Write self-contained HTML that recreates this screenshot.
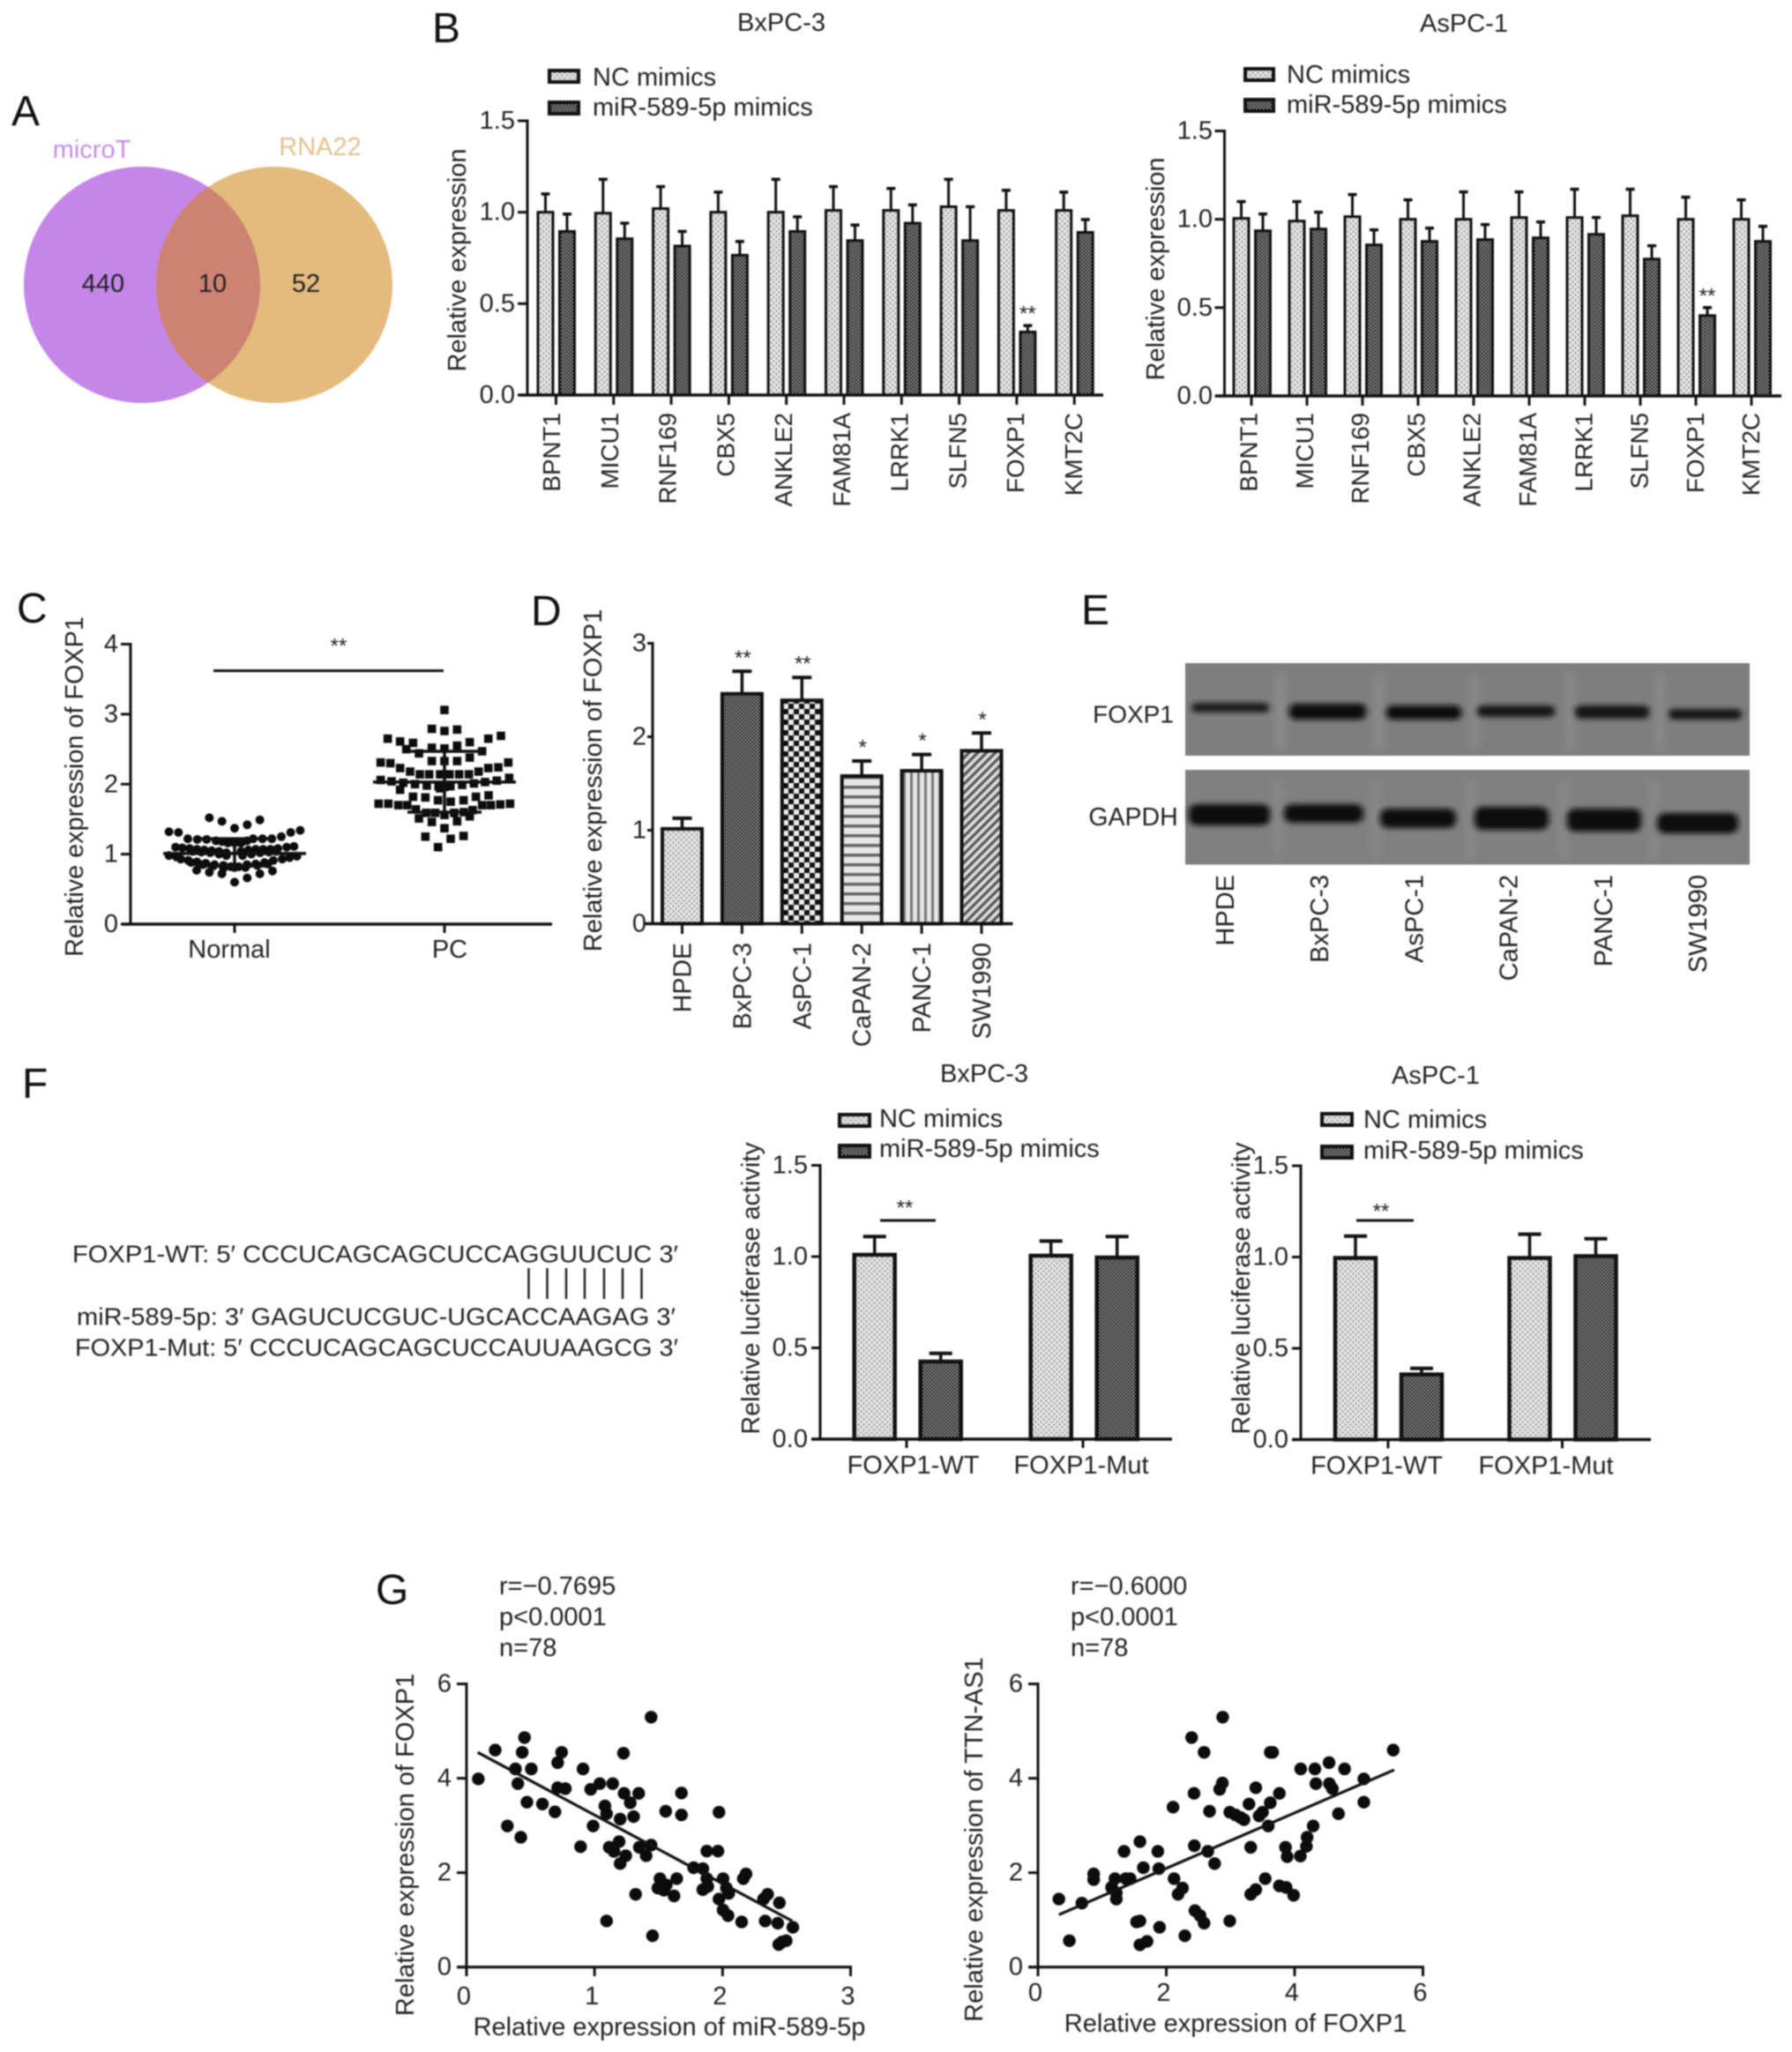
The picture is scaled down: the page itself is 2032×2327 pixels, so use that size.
<!DOCTYPE html>
<html lang="en">
<head>
<meta charset="utf-8">
<title>FOXP1 miR-589-5p multi-panel figure</title>
<style>
html,body{margin:0;padding:0;background:#fff;width:2032px;height:2327px;overflow:hidden}
svg{display:block;filter:blur(0.7px)}
text{font-family:"Liberation Sans",sans-serif;fill:#222;dominant-baseline:central}
.panel{font-size:48px;fill:#111;dominant-baseline:auto}
.t{font-size:29px}
</style>
</head>
<body>
<svg id="fig" xmlns="http://www.w3.org/2000/svg" width="2032" height="2327" viewBox="0 0 2032 2327">
<defs>
<pattern id="pat-dots" width="6" height="6" patternUnits="userSpaceOnUse"><rect width="6" height="6" fill="#e2e2e2"/><circle cx="1.5" cy="1.5" r="1" fill="#888"/><circle cx="4.5" cy="4.5" r="1" fill="#888"/></pattern>
<pattern id="pat-check" width="4" height="4" patternUnits="userSpaceOnUse"><rect width="4" height="4" fill="#999"/><rect width="2" height="2" fill="#1c1c1c"/><rect x="2" y="2" width="2" height="2" fill="#1c1c1c"/></pattern>
<pattern id="pat-big-check" width="12" height="12" patternUnits="userSpaceOnUse"><rect width="12" height="12" fill="#eee"/><rect width="6" height="6" fill="#111"/><rect x="6" y="6" width="6" height="6" fill="#111"/></pattern>
<pattern id="pat-h" width="10" height="11" patternUnits="userSpaceOnUse"><rect width="10" height="11" fill="#e6e6e6"/><rect width="10" height="3.5" fill="#666"/></pattern>
<pattern id="pat-v" width="8" height="10" patternUnits="userSpaceOnUse"><rect width="8" height="10" fill="#e6e6e6"/><rect width="3" height="10" fill="#777"/></pattern>
<pattern id="pat-diag" width="7" height="7" patternUnits="userSpaceOnUse" patternTransform="rotate(45)"><rect width="7" height="7" fill="#ddd"/><rect width="3.2" height="7" fill="#555"/></pattern>
<clipPath id="venn-clip"><circle cx="161" cy="323" r="134"/></clipPath>
<filter id="band-blur" x="-30%" y="-100%" width="160%" height="300%"><feGaussianBlur stdDeviation="3.5 3"/></filter>
<filter id="lane-blur" x="-50%" y="-5%" width="200%" height="110%"><feGaussianBlur stdDeviation="5"/></filter>
</defs>

<text class="panel" x="13" y="142">A</text>
<text class="panel" x="490" y="48">B</text>
<text class="panel" x="19" y="706">C</text>
<text class="panel" x="602" y="709">D</text>
<text class="panel" x="1226" y="708">E</text>
<text class="panel" x="25" y="1245">F</text>
<text class="panel" x="426" y="1819">G</text>

<g>
<circle cx="161" cy="323" r="134" fill="#c586e9"/>
<circle cx="311" cy="323" r="134" fill="#e3bb7d"/>
<circle cx="311" cy="323" r="134" fill="#cd8272" clip-path="url(#venn-clip)"/>
<text class="t" x="104" y="170" text-anchor="middle" style="fill:#c98ce8">microT</text>
<text class="t" x="363" y="167" text-anchor="middle" style="fill:#e6c08a">RNA22</text>
<text class="t" x="117" y="322" text-anchor="middle">440</text>
<text class="t" x="241" y="322" text-anchor="middle">10</text>
<text class="t" x="347" y="322" text-anchor="middle">52</text>
</g>

<text class="t" x="886" y="26" text-anchor="middle">BxPC-3</text>
<text class="t" x="1660" y="27" text-anchor="middle">AsPC-1</text>
<text class="t" x="1116" y="1218" text-anchor="middle">BxPC-3</text>
<text class="t" x="1628" y="1220" text-anchor="middle">AsPC-1</text>

<g>
<rect x="1344" y="752" width="640" height="105" fill="#7e7e7e"/>
<rect x="1344" y="873" width="640" height="107.500" fill="#808080"/>
<g fill="#8e8e8e" filter="url(#lane-blur)">
<rect x="1447" y="765" width="9" height="85"/><rect x="1559" y="765" width="9" height="85"/><rect x="1668" y="765" width="8" height="85"/><rect x="1777" y="765" width="8" height="85"/><rect x="1878" y="765" width="8" height="85"/>
<rect x="1446" y="885" width="6" height="88"/><rect x="1557" y="885" width="6" height="88"/><rect x="1664" y="885" width="6" height="88"/><rect x="1770" y="885" width="6" height="88"/><rect x="1872" y="885" width="6" height="88"/>
</g>
<g filter="url(#band-blur)" fill="#0a0a0a">
<rect x="1351" y="797" width="88" height="11" rx="5" fill="#1a1a1a"/>
<rect x="1462" y="798" width="87" height="18" rx="7"/>
<rect x="1572" y="800" width="85" height="16" rx="7"/>
<rect x="1675" y="800" width="88" height="13" rx="6" fill="#181818"/>
<rect x="1786" y="800" width="84" height="15" rx="6" fill="#181818"/>
<rect x="1892" y="804" width="83" height="12" rx="6" fill="#181818"/>
<rect x="1348" y="912" width="92" height="24" rx="9"/>
<rect x="1456" y="912" width="90" height="21" rx="9"/>
<rect x="1565" y="917" width="86" height="22" rx="9"/>
<rect x="1672" y="915" width="84" height="26" rx="9"/>
<rect x="1777" y="917" width="84" height="26" rx="9"/>
<rect x="1879" y="922" width="92" height="23" rx="9"/>
</g>
<text x="1285" y="810" text-anchor="middle" style="font-size:28px">FOXP1</text>
<text x="1285" y="927" text-anchor="middle" style="font-size:28.500px">GAPDH</text>
</g>

<g>
<text x="82" y="1422" style="font-size:28px" textLength="687" lengthAdjust="spacingAndGlyphs">FOXP1-WT: 5′ CCCUCAGCAGCUCCAGGUUCUC 3′</text>
<text x="87" y="1493" style="font-size:28px" textLength="679" lengthAdjust="spacingAndGlyphs">miR-589-5p: 3′ GAGUCUCGUC-UGCACCAAGAG 3′</text>
<text x="85" y="1528" style="font-size:28px" textLength="684" lengthAdjust="spacingAndGlyphs">FOXP1-Mut: 5′ CCCUCAGCAGCUCCAUUAAGCG 3′</text>
<g stroke="#222" stroke-width="2.5">
<line x1="599.5" x2="599.5" y1="1438" y2="1473"/><line x1="620.5" x2="620.5" y1="1438" y2="1473"/><line x1="642" x2="642" y1="1438" y2="1473"/><line x1="663" x2="663" y1="1438" y2="1473"/><line x1="685" x2="685" y1="1438" y2="1473"/><line x1="706" x2="706" y1="1438" y2="1473"/><line x1="727.5" x2="727.5" y1="1438" y2="1473"/>
</g>
</g>
<g id="charts"></g>
</svg>

<script>
// ---------- Panel B data ----------
const geneCategories = ['BPNT1','MICU1','RNF169','CBX5','ANKLE2','FAM81A','LRRK1','SLFN5','FOXP1','KMT2C'];
const bTickLabels = ['0.0','0.5','1.0','1.5'];
const bTickValues = [0,0.5,1,1.5];
const bLeftNc = [1.0,0.995,1.02,1.0,1.0,1.01,1.01,1.03,1.01,1.01];
const bLeftNcErrTop = [1.10,1.18,1.14,1.11,1.18,1.14,1.13,1.18,1.12,1.11];
const bLeftMimic = [0.895,0.855,0.815,0.765,0.895,0.845,0.94,0.845,0.345,0.89];
const bLeftMimicErrTop = [0.99,0.94,0.895,0.84,0.975,0.93,1.04,1.03,0.38,0.96];
const bLeftStars = ['','','','','','','','','**',''];
const bRightNc = [1.005,0.99,1.015,1.0,1.0,1.01,1.01,1.02,1.0,1.0];
const bRightNcErrTop = [1.10,1.10,1.14,1.11,1.155,1.155,1.17,1.17,1.125,1.11];
const bRightMimic = [0.935,0.945,0.855,0.875,0.885,0.895,0.915,0.775,0.455,0.875];
const bRightMimicErrTop = [1.03,1.04,0.94,0.95,0.97,0.985,1.01,0.85,0.50,0.96];
const bRightStars = ['','','','','','','','','**',''];

// ---------- Panel C data ----------
const cCategories = ['Normal','PC'];
const cTickValues = [0,1,2,3,4];
const normalValues = [1.52,1.47,1.37,1.42,1.49,1.32,1.31,1.22,1.21,1.21,1.22,1.22,1.22,1.25,1.31,1.34,1.19,1.18,1.16,1.16,1.16,1.19,1.10,1.09,1.08,1.07,1.06,1.05,1.04,1.02,1.04,1.06,1.07,1.07,1.07,1.08,1.10,1.11,1.04,1.03,1.02,1.0,0.98,0.98,1.0,1.02,1.03,1.04,0.98,0.96,0.93,0.91,0.89,0.87,0.85,0.84,0.82,0.81,0.82,0.85,0.86,0.88,0.91,0.93,0.95,0.97,0.77,0.74,0.72,0.72,0.76,0.60,0.66,0.88,0.85,0.83,0.80,0.81,0.84,0.86];
const normalSwarmColumn = [-2,-1,0,1,2,-5.19,-4.44,-3.70,-2.95,-2.21,1.47,2.21,2.95,3.70,4.44,5.19,-1.47,-1,-0.53,0,0.51,0.98,-4.67,-4.14,-3.56,-2.98,-2.40,-1.81,-1.23,-0.65,0.51,1.09,1.67,2.26,2.84,3.42,4.12,4.70,-3.33,-2.63,-1.93,-1.23,-0.65,0.63,1.33,2.02,2.72,3.30,-5.19,-4.60,-4.26,-3.67,-2.98,-2.28,-1.58,-0.88,-0.30,0,0.33,0.98,1.67,2.37,3.07,3.77,4.35,4.93,-3,-2,-1,2,3,0,1,-3.44,-2.51,-1.70,-0.88,0.86,1.79,2.60];
const pcValues = [3.06,2.79,2.76,2.78,2.65,2.61,2.59,2.60,2.65,2.69,2.50,2.44,2.52,2.51,2.55,2.47,2.33,2.33,2.33,2.38,2.31,2.30,2.23,2.18,2.14,2.14,2.14,2.14,2.14,2.14,2.18,2.23,2.24,2.31,2.06,2.04,2.02,2.0,1.98,1.97,1.96,1.97,1.99,2.01,2.03,2.05,2.09,1.92,1.94,1.82,1.81,1.77,1.75,1.77,1.82,1.84,1.72,1.72,1.70,1.70,1.64,1.59,1.59,1.56,1.59,1.60,1.63,1.70,1.70,1.71,1.72,1.51,1.46,1.47,1.54,1.37,1.25,1.22,1.26,1.10];
const pcSwarmColumn = [0,-1,0,1,-4.49,-3.51,-2.49,2,3.47,4.47,-3.02,-2.02,-1,0,1,2.98,-1,0,1,2,-5.05,-4.28,-3.51,-2.72,-1.95,-1.21,-0.35,0.40,1.16,1.93,2.70,3.47,4.26,5.05,-5.05,-4.19,-3.26,-2.33,-1.40,-0.47,0,0.47,1.40,2.33,3.21,4.14,5.12,-3.51,-0.35,-2.49,-1.51,-0.51,0.49,1.51,2.49,3.49,-5.21,-4.44,-3.65,-2.95,-2.26,-1.44,-0.74,0,0.77,1.53,2.23,2.98,3.67,4.42,5.19,-2.02,-1,1,2,0,-1.51,0.49,1.51,-0.51];
const normalSummary = [1.01,1.22,0.83];
const pcSummary = [2.03,2.47,1.60];

// ---------- Panel D data ----------
const dCategories = ['HPDE','BxPC-3','AsPC-1','CaPAN-2','PANC-1','SW1990'];
const dValues = [1.015,2.46,2.39,1.58,1.636,1.85];
const dErrTop = [1.128,2.70,2.635,1.74,1.81,2.04];
const dStars = ['','**','**','*','*','*'];
const dTickValues = [0,1,2,3];
const dFills = ['pat-dots','pat-check','pat-big-check','pat-h','pat-v','pat-diag'];

// ---------- Panel E lane labels ----------
const eLanes = ['HPDE','BxPC-3','AsPC-1','CaPAN-2','PANC-1','SW1990'];

// ---------- Panel F data ----------
const fCategories = ['FOXP1-WT','FOXP1-Mut'];
const fLeftNc = [1.01,1.005];
const fLeftNcErrTop = [1.11,1.085];
const fLeftMimic = [0.425,0.995];
const fLeftMimicErrTop = [0.47,1.11];
const fRightNc = [0.995,0.995];
const fRightNcErrTop = [1.115,1.125];
const fRightMimic = [0.357,1.005];
const fRightMimicErrTop = [0.39,1.10];

// ---------- Panel G data ----------
const g1Ticks = [0,1,2,3];
const g1YTicks = [0,2,4,6];
const g1X = [0.092,0.224,0.319,0.382,0.401,0.424,0.435,0.453,0.472,0.506,0.593,0.691,0.712,0.712,0.743,0.772,0.891,0.910,0.970,0.989,1.041,1.081,1.094,1.115,1.142,1.152,1.192,1.200,1.200,1.226,1.231,1.244,1.279,1.305,1.321,1.345,1.350,1.403,1.442,1.442,1.453,1.094,1.495,1.511,1.542,1.561,1.556,1.621,1.642,1.679,1.679,1.774,1.846,1.846,1.877,1.877,1.885,1.964,1.972,1.972,2.004,2.004,2.030,2.043,2.048,2.149,2.162,2.183,2.320,2.333,2.352,2.431,2.444,2.439,2.465,2.497,2.549];
const g1Y = [3.987,4.598,2.990,4.199,3.887,2.751,4.551,4.864,3.495,4.199,3.455,3.289,4.332,3.801,4.551,3.781,2.551,4.199,3.767,2.990,3.887,3.415,3.249,2.538,3.887,2.452,2.658,3.136,2.193,4.532,3.681,2.359,3.482,3.189,1.542,3.681,2.538,2.359,5.296,2.585,0.664,0.977,1.674,1.874,1.628,1.741,3.302,1.508,1.874,3.223,3.688,2.106,2.086,1.641,1.874,2.458,1.708,2.458,3.282,1.442,1.209,1.874,1.674,1.090,1.561,0.957,1.874,1.973,1.442,0.977,1.542,0.930,1.362,0.478,0.532,0.558,0.844];
const g1Fit = [[0.087,4.55],[2.544,0.977]];
const g2Ticks = [0,2,4,6];
const g2YTicks = [0,2,4,6];
const g2X = [0.326,0.489,0.684,0.868,0.868,1.147,1.2,1.221,1.221,1.342,1.368,1.437,1.537,1.589,1.589,1.589,1.7,1.642,1.868,1.895,1.884,2.105,2.121,2.184,2.253,2.289,2.395,2.432,2.437,2.447,2.526,2.589,2.589,2.647,2.674,2.753,2.832,2.874,2.879,2.989,2.989,3.079,3.158,3.211,3.289,3.316,3.316,3.395,3.395,3.447,3.5,3.542,3.589,3.621,3.621,3.658,3.763,3.763,3.868,3.858,3.884,3.984,4.089,4.095,4.184,4.195,4.289,4.316,4.332,4.537,4.542,4.589,4.684,4.779,5.079,5.079,5.537];
const g2Y = [1.442,0.558,1.355,1.973,1.854,1.688,1.874,1.575,1.442,2.452,1.874,1.874,0.957,0.977,2.658,0.472,0.545,2.106,2.452,0.844,2.086,3.389,1.874,1.542,1.674,0.664,4.864,3.681,2.571,1.196,1.090,0.930,4.551,2.452,3.302,2.193,3.767,3.900,5.296,0.977,3.282,3.223,3.169,3.123,3.455,2.538,1.542,1.641,3.801,3.203,3.282,1.874,2.990,3.482,4.551,4.551,1.721,3.681,1.688,2.538,2.339,1.522,2.352,4.199,2.558,2.751,2.990,4.199,3.887,4.332,3.887,3.781,3.249,4.199,3.987,3.495,4.598];
const g2Fit = [[0.326,1.11],[5.553,4.179]];

const NS = 'http://www.w3.org/2000/svg';
const root = document.getElementById('charts');

function mk(tag, attrs, name, parent) {
  const el = document.createElementNS(NS, tag);
  for (const k in attrs) el.setAttribute(k, attrs[k]);
  
  
  (parent || root).appendChild(el);
  return el;
}
function txt(s, x, y, name, parent, anchor, size, rot) {
  const attrs = {x: x, y: y, 'text-anchor': anchor || 'middle', style: 'font-size:' + (size || 29) + 'px'};
  if (rot) attrs.transform = 'rotate(-90 ' + x + ' ' + y + ')';
  const t = mk('text', attrs, name, parent);
  t.textContent = s;
  return t;
}
function line(x1, y1, x2, y2, w, name, parent) {
  return mk('line', {x1: x1, y1: y1, x2: x2, y2: y2, stroke: '#111', 'stroke-width': w}, name, parent);
}
function linear(d0, d1, r0, r1) {
  return function (v) { return r0 + (v - d0) / (d1 - d0) * (r1 - r0); };
}
function yAxis(prefix, g, x, sy, vals, labels, labelX, tl, size) {
  line(x, sy(vals[vals.length - 1]) - 1.5, x, sy(vals[0]) + 1.5, 3, prefix + '-y-axis', g);
  vals.forEach(function (v, i) {
    line(x - tl, sy(v), x, sy(v), 3, prefix + '-y-tick', g);
    txt(labels[i], labelX, sy(v), prefix + '-y-tick-label', g, 'end', size);
  });
}
function swatch(x, y, w, h, fill, name, parent) {
  mk('rect', {x: x + 2, y: y + 2, width: w - 4, height: h - 4, fill: 'url(#' + fill + ')', stroke: '#111', 'stroke-width': 4}, name, parent);
}
function legend(g, prefix, sx, y1, y2, tx, ty1, ty2, sw, sh) {
  swatch(sx, y1, sw, sh, 'pat-dots', prefix + '-legend-swatch-nc', g);
  txt('NC mimics', tx, ty1, prefix + '-legend-label-nc', g, 'start');
  swatch(sx, y2, sw, sh, 'pat-check', prefix + '-legend-swatch-mimic', g);
  txt('miR-589-5p mimics', tx, ty2, prefix + '-legend-label-mimic', g, 'start');
}
function bar(g, name, cx, w, top, base, fill, sw) {
  mk('rect', {x: cx - w / 2, y: top, width: w, height: base - top, fill: 'url(#' + fill + ')', stroke: '#111', 'stroke-width': sw}, name, g);
}
function errBar(g, name, cx, from, to, cap, sw) {
  line(cx, from, cx, to, sw, name + '-stem', g);
  line(cx - cap / 2, to, cx + cap / 2, to, sw + 0.5, name + '-cap', g);
}

function drawGrouped(p) {
  const g = mk('g', {}, p.name, root);
  const sy = linear(0, 1.5, p.y0, p.yTop);
  const tx = function (i) { return p.tick0 + p.step * i; };
  p.cats.forEach(function (c, i) {
    const a = tx(i) + p.offA, b = tx(i) + p.offB;
    bar(g, p.name + '-bar-nc-' + c.toLowerCase(), a, p.barW, sy(p.nc[i]), p.y0, 'pat-dots', p.sw);
    errBar(g, p.name + '-error-nc-' + c.toLowerCase(), a, sy(p.nc[i]), sy(p.ncErr[i]), p.cap, 3);
    bar(g, p.name + '-bar-mimic-' + c.toLowerCase(), b, p.barW, sy(p.mimic[i]), p.y0, 'pat-check', p.sw);
    errBar(g, p.name + '-error-mimic-' + c.toLowerCase(), b, sy(p.mimic[i]), sy(p.mimicErr[i]), p.cap, 3);
    line(tx(i), p.y0, tx(i), p.y0 + 11, 3, p.name + '-x-tick', g);
    txt(c, tx(i) + p.labelShift + p.labelDrift * i, p.labelY, p.name + '-x-label-' + c.toLowerCase(), g, 'end', 27.8, true);
    if (p.stars && p.stars[i]) {
      txt(p.stars[i], b, sy(p.mimicErr[i]) - 13, p.name + '-significance-stars', g, 'middle', 24);
    }
  });
  line(p.x0 - 10, p.y0, p.xEnd, p.y0, 3.5, p.name + '-x-axis', g);
  yAxis(p.name, g, p.x0, sy, bTickValues, bTickLabels, p.labelX, 11);
  txt(p.yTitle, p.titleX, p.titleY, p.name + '-y-axis-title', g, 'middle', 29, true);
  return {g: g, sy: sy};
}

// Panel B
const bl = drawGrouped({name: 'b-left-chart', cats: geneCategories, nc: bLeftNc, ncErr: bLeftNcErrTop, mimic: bLeftMimic, mimicErr: bLeftMimicErrTop, stars: bLeftStars,
  x0: 598, y0: 448, yTop: 137, xEnd: 1251, tick0: 630.5, step: 65.3, offA: -12, offB: 12.5, barW: 17, sw: 3, cap: 10, labelShift: -5, labelDrift: 0.45, labelY: 468, labelX: 584, yTitle: 'Relative expression', titleX: 519, titleY: 295});
legend(bl.g, 'b-left', 621, 78, 114, 672, 88, 122, 37, 17);
const br = drawGrouped({name: 'b-right-chart', cats: geneCategories, nc: bRightNc, ncErr: bRightNcErrTop, mimic: bRightMimic, mimicErr: bRightMimicErrTop, stars: bRightStars,
  x0: 1388.5, y0: 449, yTop: 148.5, xEnd: 2020, tick0: 1419, step: 63, offA: -11.5, offB: 13, barW: 17, sw: 3, cap: 10, labelShift: -3, labelDrift: 0.3, labelY: 468, labelX: 1375, yTitle: 'Relative expression', titleX: 1311, titleY: 305});
legend(br.g, 'b-right', 1410, 76, 111, 1459, 85, 119, 36, 17);

// Panel C
(function () {
  const g = mk('g', {}, 'c-swarm-chart', root);
  const sy = linear(0, 4, 1048, 730.5);
  const cx = [266, 504];
  const colStep = 14.33;
  normalValues.forEach(function (v, i) {
    mk('circle', {cx: cx[0] + normalSwarmColumn[i] * colStep, cy: sy(v), r: 5, fill: '#0c0c0c'}, 'normal-point', g);
  });
  pcValues.forEach(function (v, i) {
    const s = 9.6;
    mk('rect', {x: cx[1] + pcSwarmColumn[i] * colStep - s / 2, y: sy(v) - s / 2, width: s, height: s, fill: '#0c0c0c'}, 'pc-point', g);
  });
  [[normalSummary, cx[0]], [pcSummary, cx[1]]].forEach(function (e) {
    const st = e[0], c = e[1];
    line(c - 81, sy(st[0]), c + 81, sy(st[0]), 3.5, 'c-mean-line', g);
    line(c, sy(st[1]), c, sy(st[2]), 3.5, 'c-sd-stem', g);
    line(c - 42, sy(st[1]), c + 42, sy(st[1]), 3.5, 'c-sd-cap-top', g);
    line(c - 42, sy(st[2]), c + 42, sy(st[2]), 3.5, 'c-sd-cap-bottom', g);
  });
  line(148 - 10, 1048, 626, 1048, 3.5, 'c-x-axis', g);
  yAxis('c', g, 148, sy, cTickValues, cTickValues.map(String), 134, 11);
  line(cx[0], 1048, cx[0], 1058, 3, 'c-x-tick', g);
  line(cx[1], 1048, cx[1], 1058, 3, 'c-x-tick', g);
  txt(cCategories[0], 260, 1077, 'c-x-label-normal', g);
  txt(cCategories[1], 510, 1077, 'c-x-label-pc', g);
  line(242, sy(3.62), 503, sy(3.62), 3, 'c-significance-bar', g);
  txt('**', 384, 733, 'c-significance-stars', g, 'middle', 24);
  txt('Relative expression of FOXP1', 85, 892, 'c-y-axis-title', g, 'middle', 28.8, true);
})();

// Panel D
(function () {
  const g = mk('g', {}, 'd-bar-chart', root);
  const sy = linear(0, 3, 1047.5, 729.5);
  const tx = function (i) { return 773.5 + 67.9 * i; };
  dCategories.forEach(function (c, i) {
    bar(g, 'd-bar-' + c.toLowerCase(), tx(i), 45, sy(dValues[i]), 1047.5, dFills[i], 4);
    errBar(g, 'd-error-' + c.toLowerCase(), tx(i), sy(dValues[i]), sy(dErrTop[i]), 22, 3.5);
    line(tx(i), 1047.5, tx(i), 1059, 3, 'd-x-tick', g);
    txt(c, tx(i) + 1, 1069, 'd-x-label-' + c.toLowerCase(), g, 'end', 28.5, true);
    if (dStars[i]) txt(dStars[i], tx(i) + 1, sy(dErrTop[i]) - 15, 'd-significance-stars', g, 'middle', 24);
  });
  line(730, 1047.5, 1148.5, 1047.5, 3.5, 'd-x-axis', g);
  yAxis('d', g, 740, sy, dTickValues, dTickValues.map(String), 733, 6);
  txt('Relative expression of FOXP1', 673, 885, 'd-y-axis-title', g, 'middle', 29, true);
})();

// Panel E lane labels
(function () {
  const g = mk('g', {}, 'e-lane-labels', root);
  const tx = function (i) { return 1390 + 107.2 * i; };
  eLanes.forEach(function (c, i) {
    txt(c, tx(i), 992, 'e-lane-label-' + c.toLowerCase(), g, 'end', 29, true);
  });
})();

// Panel F
function drawF(p) {
  const g = mk('g', {}, p.name, root);
  const sy = linear(0, 1.5, p.y0, p.yTop);
  fCategories.forEach(function (c, i) {
    const t = p.ticks[i], a = t - 37.5 + p.shift, b = t + 37.5 + p.shift;
    bar(g, p.name + '-bar-nc-' + c.toLowerCase(), a, 46, sy(p.nc[i]), p.y0, 'pat-dots', 4.5);
    errBar(g, p.name + '-error-nc-' + c.toLowerCase(), a, sy(p.nc[i]), sy(p.ncErr[i]), 26, 3.5);
    bar(g, p.name + '-bar-mimic-' + c.toLowerCase(), b, 46, sy(p.mimic[i]), p.y0, 'pat-check', 4.5);
    errBar(g, p.name + '-error-mimic-' + c.toLowerCase(), b, sy(p.mimic[i]), sy(p.mimicErr[i]), 26, 3.5);
    line(t, p.y0, t, p.y0 + 10, 3, p.name + '-x-tick', g);
    txt(c, p.labelX[i], p.y0 + 30, p.name + '-x-label-' + c.toLowerCase(), g);
  });
  line(p.x0 - 10, p.y0, p.xEnd, p.y0, 3.5, p.name + '-x-axis', g);
  yAxis(p.name, g, p.x0, sy, bTickValues, bTickLabels, p.x0 - 14, 10);
  line(p.sig[0], p.sig[2], p.sig[1], p.sig[2], 3, p.name + '-significance-bar', g);
  txt('**', p.sig[3], p.sig[4], p.name + '-significance-stars', g, 'middle', 24);
  txt('Relative luciferase activity', p.titleX, 1461, p.name + '-y-axis-title', g, 'middle', 28.8, true);
  legend(g, p.name, p.leg[0], p.leg[1], p.leg[2], p.leg[3], p.leg[4], p.leg[5], 38, 17);
}
drawF({name: 'f-left-chart', nc: fLeftNc, ncErr: fLeftNcErrTop, mimic: fLeftMimic, mimicErr: fLeftMimicErrTop,
  x0: 930, y0: 1632, yTop: 1321.5, xEnd: 1329, ticks: [1028, 1228], shift: 1.2, labelX: [1035.5, 1226],
  sig: [998, 1061, 1384, 1026, 1370], titleX: 852, leg: [950, 1262, 1297, 997, 1269, 1303]});
drawF({name: 'f-right-chart', nc: fRightNc, ncErr: fRightNcErrTop, mimic: fRightMimic, mimicErr: fRightMimicErrTop,
  x0: 1475, y0: 1632.5, yTop: 1322, xEnd: 1872, ticks: [1574, 1771.5], shift: 0.5, labelX: [1561, 1753],
  sig: [1538, 1603, 1384, 1566, 1374], titleX: 1408, leg: [1497, 1261, 1298, 1546, 1270, 1305]});

// Panel G
function drawScatter(p) {
  const g = mk('g', {}, p.name, root);
  const sx = linear(0, p.xTicks[p.xTicks.length - 1], p.x0, p.xEnd);
  const sy = linear(0, 6, 2230.7, 1909.6);
  p.xs.forEach(function (x, i) {
    mk('circle', {cx: sx(x), cy: sy(p.ys[i]), r: 7.2, fill: '#0c0c0c'}, p.name + '-point', g);
  });
  line(sx(p.fit[0][0]), sy(p.fit[0][1]), sx(p.fit[1][0]), sy(p.fit[1][1]), 3.2, p.name + '-regression-line', g);
  line(p.x0 - 10, 2230.7, p.xEnd + 1.5, 2230.7, 3.2, p.name + '-x-axis', g);
  yAxis(p.name, g, p.x0, sy, p.yTicks, p.yTicks.map(String), p.x0 - 17, 11);
  p.xTicks.forEach(function (t) {
    line(sx(t), 2230.7, sx(t), 2241, 3, p.name + '-x-tick', g);
    txt(String(t), sx(t) - 3, p.tickY, p.name + '-x-tick-label', g);
  });
  txt(p.xTitle, p.xTitleX, p.xTitleY, p.name + '-x-axis-title', g);
  txt(p.yTitle, p.yTitleX, p.yTitleY, p.name + '-y-axis-title', g, 'middle', 29, true);
  p.stats.forEach(function (s, i) {
    txt(s, p.statX, [1799, 1834, 1869][i], p.name + '-stat-' + i, g, 'start');
  });
}
drawScatter({name: 'g-left-chart', x0: 529, xEnd: 964.5, xTicks: g1Ticks, yTicks: g1YTicks, xs: g1X, ys: g1Y, fit: g1Fit, tickY: 2264,
  xTitle: 'Relative expression of miR-589-5p', xTitleX: 759, xTitleY: 2299, yTitle: 'Relative expression of FOXP1', yTitleX: 460, yTitleY: 2092,
  stats: ['r=−0.7695', 'p<0.0001', 'n=78'], statX: 566});
drawScatter({name: 'g-right-chart', x0: 1177, xEnd: 1613.5, xTicks: g2Ticks, yTicks: g2YTicks, xs: g2X, ys: g2Y, fit: g2Fit, tickY: 2260,
  xTitle: 'Relative expression of FOXP1', xTitleX: 1401, xTitleY: 2295, yTitle: 'Relative expression of TTN-AS1', yTitleX: 1105, yTitleY: 2086,
  stats: ['r=−0.6000', 'p<0.0001', 'n=78'], statX: 1214});
</script>
</body>
</html>
